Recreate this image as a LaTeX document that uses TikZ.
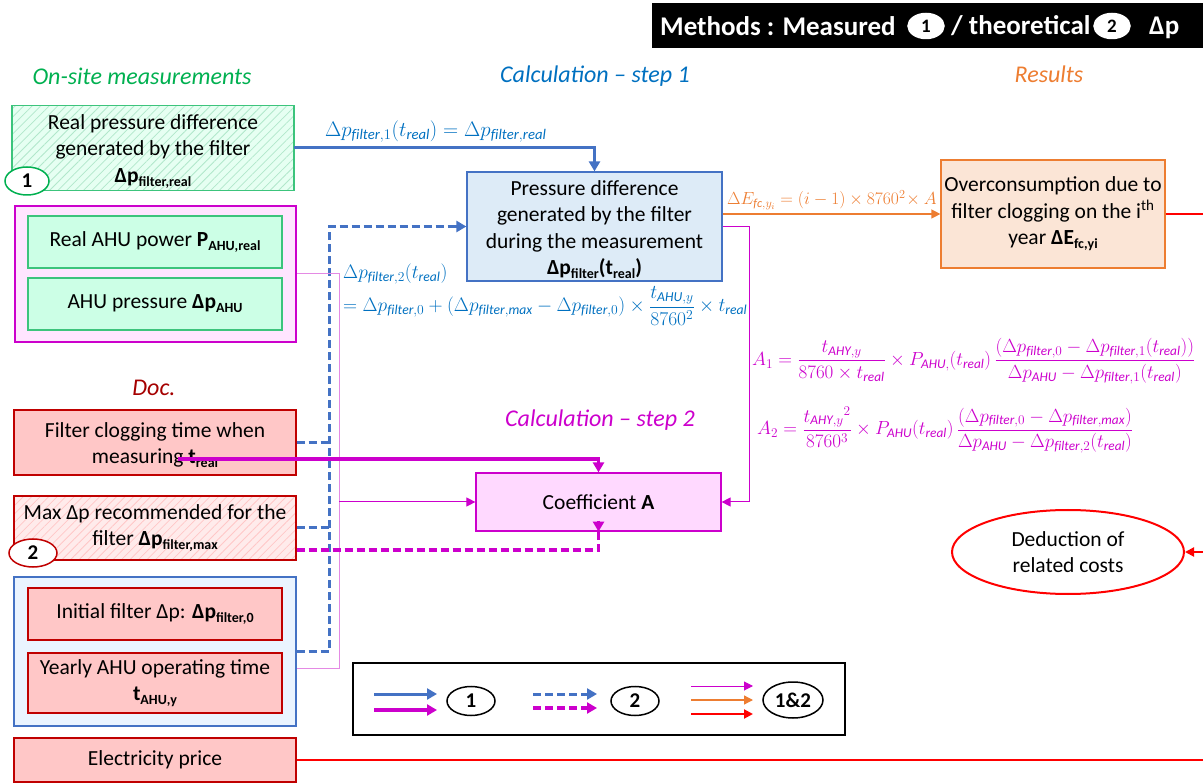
\RequirePackage{fix-cm}
\documentclass[tikz,border=0pt]{standalone}
\usepackage{amsmath}
\usepackage{fontspec}
\setmainfont{Carlito}
\usetikzlibrary{arrows.meta,shapes.geometric,patterns.meta}

\definecolor{cblue}{HTML}{4472C4}
\definecolor{ftblue}{HTML}{0070C0}
\definecolor{cmag}{HTML}{CC00CC}
\definecolor{lmag}{HTML}{E48AE4}
\definecolor{cgreen}{HTML}{00B050}
\definecolor{gborder}{HTML}{3CC47C}
\definecolor{mint}{HTML}{CCFFE6}
\definecolor{pinkbg}{HTML}{FFE5FF}
\definecolor{coefbg}{HTML}{FFD9FF}
\definecolor{bluebg}{HTML}{DDEBF7}
\definecolor{grpbg}{HTML}{EAF4FF}
\definecolor{redbg}{HTML}{FFC7C7}
\definecolor{dred}{HTML}{C00000}
\definecolor{orbg}{HTML}{FBE5D6}
\definecolor{corange}{HTML}{ED7D31}
\definecolor{docred}{HTML}{A50000}
\definecolor{cred}{HTML}{FF0000}

\newcommand\sbx[1]{\raisebox{-0.4ex}{\fontsize{14}{14}\selectfont\bfseries #1}}
\newcommand\mi[1]{\mathit{#1}}

\tikzset{
  box/.style={draw, line width=1.2pt, align=center, font=\fontsize{21.5}{26.5}\selectfont, inner sep=2pt},
  greenbox/.style={box, draw=gborder, fill=mint},
  redbox/.style={box, draw=dred, fill=redbg},
  grouplbl/.style={font=\fontsize{24}{28}\selectfont\itshape},
  numell/.style={ellipse, draw, line width=1.5pt, fill=white, inner sep=0pt, font=\fontsize{21}{24}\selectfont\bfseries},
  fml/.style={font=\fontsize{19}{22}\selectfont, inner sep=0pt},
  titletxt/.style={anchor=west, text=white, font=\fontsize{27}{30}\selectfont\bfseries, inner sep=0pt},
  solidblue/.style={draw=cblue, line width=3pt, -{Triangle[length=10pt,width=11pt]}},
  dashblue/.style={draw=cblue, line width=3pt, dash pattern=on 8pt off 4pt},
  solidmag/.style={draw=cmag, line width=3.5pt, -{Triangle[length=10pt,width=11pt]}},
  dashmag/.style={draw=cmag, line width=3.5pt, dash pattern=on 8pt off 4pt},
  thinmag/.style={draw=cmag, line width=1pt},
  thinarrow/.style={-{Triangle[length=9pt,width=9pt]}},
  redline/.style={draw=cred, line width=2pt},
}

\begin{document}
\begin{tikzpicture}[x=1pt,y=-1pt]
\useasboundingbox (0,0) rectangle (1203,783);

% title bar
\node[fill=black, minimum width=551pt, minimum height=45pt, inner sep=0pt] (title) at (927.5,25.5) {};
\node[titletxt] (t1) at (660,26) {Methods : Measured};
\node[numell, draw=white, minimum width=36pt, minimum height=25pt, font=\fontsize{19}{20}\selectfont\bfseries] (te1) at (926,26) {1};
\node[titletxt] (t2) at (951,26) {/ theoretical};
\node[numell, draw=white, minimum width=36pt, minimum height=25pt, font=\fontsize{19}{20}\selectfont\bfseries] (te2) at (1112,26) {2};
\node[titletxt, anchor=base west] (t3) at (1149,35) {Δp};

% group labels
\node[grouplbl, text=cgreen] (lon) at (142,76) {On-site measurements};
\node[grouplbl, text=ftblue] (lc1) at (595,76) {Calculation – step 1};
\node[grouplbl, text=corange] (lres) at (1049,74) {Results};
\node[grouplbl, text=docred] (ldoc) at (154,388) {Doc.};
\node[grouplbl, text=cmag] (lc2) at (600,420) {Calculation – step 2};

% on-site boxes
\node[box, draw=gborder, preaction={fill=mint!50}, pattern={Lines[angle=45,distance=6pt,line width=0.8pt]}, pattern color=gborder!40,
      minimum width=282pt, minimum height=78pt] (realp) at (153,148)
  {\rule{0pt}{22pt}Real pressure difference\\generated by the filter\\\textbf{Δp}\sbx{filter,real}};
\node[numell, draw=cgreen, minimum width=44pt, minimum height=28pt] (e1) at (27,181) {1};

\node[box, draw=cmag, fill=pinkbg, line width=2pt, minimum width=281pt, minimum height=136pt] (mag) at (155.5,274) {};
\node[greenbox, minimum width=254pt, minimum height=52pt] (ahup) at (155,242) {Real AHU power \textbf{P}\sbx{AHU,real}};
\node[greenbox, minimum width=254pt, minimum height=52pt] (ahudp) at (155,304) {AHU pressure \textbf{Δp}\sbx{AHU}};

% doc boxes
\node[redbox, minimum width=282pt, minimum height=65pt] (doc1) at (155,442.5) {\rule{0pt}{20pt}Filter clogging time when\\measuring \textbf{t}\sbx{real}};
\node[box, draw=dred, preaction={fill=redbg!35}, pattern={Lines[angle=45,distance=6pt,line width=0.8pt]}, pattern color=redbg,
      minimum width=282pt, minimum height=64pt] (doc2) at (155,528)
  {Max Δp recommended for the\\filter \textbf{Δp}\sbx{filter,max}};
\node[numell, draw=dred, minimum width=48pt, minimum height=28pt] (e2) at (33,553) {2};

\node[box, draw=cblue, fill=grpbg, minimum width=282pt, minimum height=149pt] (grp) at (155,651.5) {};
\node[redbox, minimum width=254pt, minimum height=52pt] (init) at (155,614) {Initial filter Δp: \textbf{Δp}\sbx{filter,0}};
\node[redbox, minimum width=254pt, minimum height=60pt] (yearly) at (155,683) {Yearly AHU operating time\\\textbf{t}\sbx{AHU,y}};
\node[redbox, minimum width=282pt, minimum height=44pt] (elec) at (155,760) {Electricity price};

% calculation boxes
\node[box, draw=cblue, fill=bluebg, minimum width=255pt, minimum height=109pt] (pdiff) at (594.5,226.5)
  {\rule{0pt}{21pt}Pressure difference\\generated by the filter\\during the measurement\\\textbf{Δp}\sbx{filter}\textbf{(t}\sbx{real}\textbf{)}};
\node[box, draw=cmag, fill=coefbg, minimum width=245pt, minimum height=58pt] (coefA) at (598.5,502) {Coefficient \textbf{A}};

% results
\node[box, draw=corange, fill=orbg, minimum width=224pt, minimum height=108pt] (res) at (1053,214)
  {Overconsumption due to\\filter clogging on the i\textsuperscript{th}\\year \textbf{ΔE}\sbx{fc,yi}};
\node[ellipse, draw=cred, line width=2pt, fill=white, minimum width=232pt, minimum height=84pt, align=center,
      font=\fontsize{21.5}{26}\selectfont] (ded) at (1068,552) {Deduction of\\related costs};

% helper coordinates
\coordinate (edge) at (1203,0);
\coordinate (vx) at (329,0);
\coordinate (vm) at (339,0);
\coordinate (tr) at (178,459);
\coordinate (gm) at ([yshift=-17pt]grp.east);
\coordinate (d2m) at ([yshift=-22pt]doc2.east);

% connectors
\draw[solidblue] (realp.east) -| (pdiff.north);
\draw[dashblue] (doc1.east) -- (doc1.east -| vx);
\draw[dashblue] (doc2.east) -- (doc2.east -| vx);
\draw[dashblue] (grp.east) -| (vx |- pdiff.west) -- ([xshift=-9pt]pdiff.west);
\draw[draw=cblue, line width=3pt, -{Triangle[length=10pt,width=11pt]}] ([xshift=-10pt]pdiff.west) -- (pdiff.west);

\draw[thinmag, draw=lmag] (mag.east) -| (gm -| vm) -- (gm);
\draw[thinmag, thinarrow] (coefA.west -| vm) -- (coefA.west);
\draw[solidmag] (tr) -| (coefA.north);
\draw[dashmag] (d2m) -| ([yshift=10pt]coefA.south);
\draw[draw=cmag, line width=3.5pt, -{Triangle[length=10pt,width=11pt]}] ([yshift=11pt]coefA.south) -- (coefA.south);
\draw[thinmag, thinarrow] (pdiff.east) -- ++(27,0) |- (coefA.east);

\draw[draw=corange, line width=1.3pt, thinarrow] (pdiff.east |- res.west) -- (res.west);
\draw[redline] (res.east) -- (res.east -| edge);
\draw[redline, thinarrow] (ded.east -| edge) -- (ded.east);
\draw[redline] (elec.east) -- (elec.east -| edge);

% formulas
\node[fml, text=ftblue, anchor=south west, font=\fontsize{21}{24}\selectfont] (f1) at (325,143)
  {$\Delta p_{\mi{filter},1}(t_{\mi{real}}) = \Delta p_{\mi{filter},\mi{real}}$};
\node[fml, text=ftblue, anchor=west, font=\fontsize{19.5}{22}\selectfont] (f2a) at (343,274)
  {$\Delta p_{\mi{filter},2}(t_{\mi{real}})$};
\node[fml, text=ftblue, anchor=west, font=\fontsize{19.5}{22}\selectfont] (f2b) at (343,306)
  {$= \Delta p_{\mi{filter},0} + \left(\Delta p_{\mi{filter},\mi{max}} - \Delta p_{\mi{filter},0}\right) \times \dfrac{t_{\mi{AHU},y}}{8760^2} \times t_{\mi{real}}$};
\node[fml, text=corange, anchor=south, font=\fontsize{17.5}{20}\selectfont] (f3) at (832,210)
  {$\Delta E_{\mi{fc},y_i} = (i-1) \times 8760^2 \!\times A$};
\node[fml, text=cmag, anchor=west] (fa1) at (752,361)
  {$A_1 = \dfrac{t_{\mi{AHY},y}}{8760 \times t_{\mi{real}}} \times P_{\mi{AHU},}(t_{\mi{real}})\,\dfrac{\left(\Delta p_{\mi{filter},0} - \Delta p_{\mi{filter},1}(t_{\mi{real}})\right)}{\Delta p_{\mi{AHU}} - \Delta p_{\mi{filter},1}(t_{\mi{real}})}$};
\node[fml, text=cmag, anchor=west] (fa2) at (757,430)
  {$A_2 = \dfrac{{t_{\mi{AHY},y}}^2}{8760^3} \times P_{\mi{AHU}}(t_{\mi{real}})\,\dfrac{\left(\Delta p_{\mi{filter},0} - \Delta p_{\mi{filter},\mi{max}}\right)}{\Delta p_{\mi{AHU}} - \Delta p_{\mi{filter},2}(t_{\mi{real}})}$};

% legend
\node[draw=black, line width=1.2pt, minimum width=492pt, minimum height=72pt] (leg) at (599,699) {};
\coordinate (l1a) at (374,694); \coordinate (l1b) at (437,694);
\coordinate (l2a) at (374,710); \coordinate (l2b) at (437,710);
\draw[solidblue] (l1a) -- (l1b);
\draw[solidmag] (l2a) -- (l2b);
\node[numell, draw=black, minimum width=48pt, minimum height=29pt] (le1) at (471,701) {1};
\coordinate (l3a) at (533,694); \coordinate (l3b) at (586,694);
\coordinate (l4a) at (533,708); \coordinate (l4b) at (586,708);
\coordinate (l3c) at (597,694); \coordinate (l4c) at (597,708);
\draw[dashblue] (l3a) -- (l3b);
\draw[draw=cblue, line width=3pt, -{Triangle[length=10pt,width=11pt]}] ([xshift=-2pt]l3b) -- (l3c);
\draw[dashmag] (l4a) -- (l4b);
\draw[draw=cmag, line width=3.5pt, -{Triangle[length=10pt,width=11pt]}] ([xshift=-2pt]l4b) -- (l4c);
\node[numell, draw=black, minimum width=48pt, minimum height=29pt] (le2) at (635,701) {2};
\coordinate (l5a) at (691,686); \coordinate (l5b) at (753,686);
\coordinate (l6a) at (691,700); \coordinate (l6b) at (753,700);
\coordinate (l7a) at (691,714); \coordinate (l7b) at (753,714);
\draw[thinmag, thinarrow] (l5a) -- (l5b);
\draw[draw=corange, line width=1.3pt, thinarrow] (l6a) -- (l6b);
\draw[redline, thinarrow] (l7a) -- (l7b);
\node[numell, draw=black, minimum width=60pt, minimum height=36pt] (le3) at (793,700) {1\&2};
\end{tikzpicture}
\end{document}
